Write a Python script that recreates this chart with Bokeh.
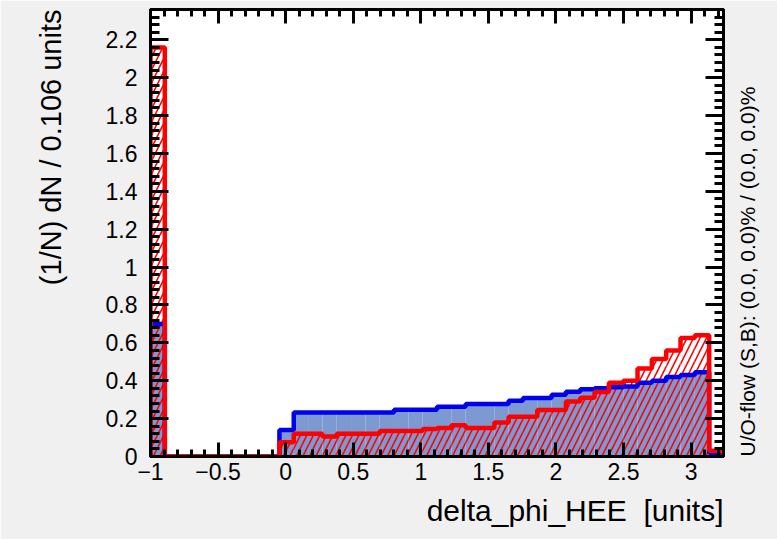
import numpy as np
from bokeh.plotting import figure
from bokeh.models import Range1d, FixedTicker, LinearAxis, Title
from bokeh.embed import file_html
from bokeh.resources import INLINE

# ---------------- data ----------------
bin_low = -1.0
bin_width = 0.106
n_bins = 40

signal = [0.70, 0, 0, 0, 0, 0, 0, 0, 0, 0.14,
          0.232, 0.232, 0.232, 0.232, 0.232, 0.232, 0.232, 0.247, 0.247, 0.247,
          0.263, 0.263, 0.277, 0.277, 0.277, 0.295, 0.309, 0.309, 0.326, 0.342,
          0.355, 0.36, 0.365, 0.37, 0.39, 0.40, 0.42, 0.43, 0.445, 0.02]

background = [2.16, 0, 0, 0, 0, 0, 0, 0, 0, 0.075,
              0.12, 0.12, 0.105, 0.12, 0.12, 0.12, 0.135, 0.135, 0.135, 0.145,
              0.15, 0.165, 0.15, 0.15, 0.18, 0.21, 0.21, 0.245, 0.245, 0.29,
              0.31, 0.34, 0.39, 0.40, 0.465, 0.515, 0.56, 0.625, 0.64, 0.03]

x_ticks = [-1, -0.5, 0, 0.5, 1, 1.5, 2, 2.5, 3]
x_tick_labels = ["\u22121", "\u22120.5", "0", "0.5", "1", "1.5", "2", "2.5", "3"]
y_ticks = [0, 0.2, 0.4, 0.6, 0.8, 1, 1.2, 1.4, 1.6, 1.8, 2, 2.2]
y_tick_labels = ["0", "0.2", "0.4", "0.6", "0.8", "1", "1.2", "1.4", "1.6", "1.8", "2", "2.2"]

x_title = "delta_phi_HEE\u00a0 [units]"
y_title = "(1/N) dN / 0.106 units"
flow_text = "U/O-flow (S,B): (0.0, 0.0)% / (0.0, 0.0)%"

# ---------------- derived ----------------
edges = bin_low + bin_width * np.arange(n_bins + 1)
x_lo, x_hi = edges[0], edges[-1]
y_lo, y_hi = 0.0, 2.36
x_minor = [round(v, 3) for v in np.arange(-1.0, 3.25, 0.1)]
y_minor = [round(v, 3) for v in np.arange(0.0, 2.37, 0.04)]

def outline(vals):
    xs = np.repeat(edges, 2)
    ys = np.concatenate([[0.0], np.repeat(np.asarray(vals, float), 2), [0.0]])
    return xs, ys

FONT = "Liberation Sans"

p = figure(width=777, height=539, output_backend="svg", toolbar_location=None,
           x_range=Range1d(x_lo, x_hi), y_range=Range1d(y_lo, y_hi),
           x_axis_type=None, y_axis_type=None,
           min_border_left=150, min_border_right=54,
           min_border_top=9, min_border_bottom=81)
p.background_fill_color = "white"
p.border_fill_color = "#f0f0f0"
p.outline_line_color = "black"
p.outline_line_width = 3
p.grid.visible = False

# signal fill
p.quad(left=edges[:-1], right=edges[1:], bottom=0, top=signal,
       fill_color="#7d99d1", line_color=None)
# background hatch
p.quad(left=edges[:-1], right=edges[1:], bottom=0, top=background,
       fill_color=None, line_color=None,
       hatch_pattern="/", hatch_color="#ff0000", hatch_scale=13, hatch_weight=1.6)
# outlines
sx, sy = outline(signal)
p.line(sx, sy, line_color="#0000ee", line_width=4.5)
bx, by = outline(background)
p.line(bx, by, line_color="#ff0000", line_width=4.5)

def make_axis(ticks, labels, minor, major_in, minor_in, show_labels):
    ax = LinearAxis(ticker=FixedTicker(ticks=ticks, minor_ticks=minor))
    ax.major_label_overrides = {t: l for t, l in zip(ticks, labels)}
    ax.axis_line_color = "black"
    ax.axis_line_width = 3
    ax.major_tick_in = major_in
    ax.major_tick_out = 0
    ax.minor_tick_in = minor_in
    ax.minor_tick_out = 0
    ax.major_tick_line_width = 3
    ax.minor_tick_line_width = 3
    ax.major_tick_line_color = "black"
    ax.minor_tick_line_color = "black"
    ax.axis_label_text_font = FONT
    ax.axis_label_text_font_style = "normal"
    ax.axis_label_text_color = "black"
    if show_labels:
        ax.major_label_text_font = FONT
        ax.major_label_text_font_size = "23px"
        ax.major_label_text_color = "black"
    else:
        ax.major_label_text_font_size = "0px"
        ax.major_label_standoff = 0
    return ax

xb = make_axis(x_ticks, x_tick_labels, x_minor, 14, 7, True)
xb.major_label_standoff = 6
p.add_layout(xb, "below")

xt = make_axis(x_ticks, x_tick_labels, x_minor, 14, 7, False)
p.add_layout(xt, "above")

yl = make_axis(y_ticks, y_tick_labels, y_minor, 18, 9, True)
yl.major_label_standoff = 13
p.add_layout(yl, "left")

yr = make_axis(y_ticks, y_tick_labels, y_minor, 18, 9, False)
yr.axis_label = flow_text
yr.axis_label_text_font_size = "21px"
yr.axis_label_orientation = np.pi / 2
yr.axis_label_align = "start"
yr.axis_label_standoff = 24
p.add_layout(yr, "right")

p.add_layout(Title(text=x_title, align="right", vertical_align="top",
                   text_font=FONT, text_font_size="30px",
                   text_font_style="normal", text_color="black", standoff=22), "below")
p.add_layout(Title(text=y_title, align="right", vertical_align="top",
                   text_font=FONT, text_font_size="29px",
                   text_font_style="normal", text_color="black", standoff=68), "left")

open("out.html", "w").write(file_html(p, INLINE))
